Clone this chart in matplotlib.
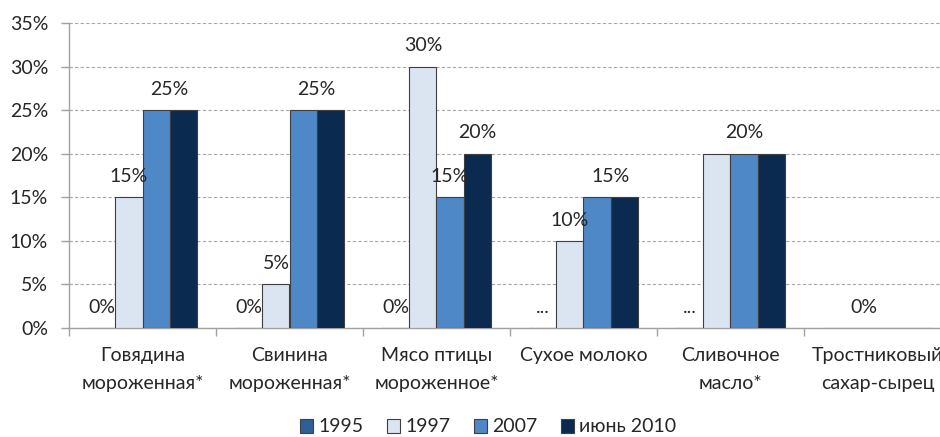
import numpy as np
import matplotlib
matplotlib.use('Agg')
import matplotlib.pyplot as plt
from matplotlib.ticker import FixedLocator, PercentFormatter

plt.rcParams['font.family'] = ['Lato', 'Open Sans', 'DejaVu Sans']

# Categories and series values (share, %); None = no data ("...")
categories = ['Говядина\nмороженная*', 'Свинина\nмороженная*', 'Мясо птицы\nмороженное*',
              'Сухое молоко', 'Сливочное\nмасло*', 'Тростниковый\nсахар-сырец']
series_names = ['1995', '1997', '2007', 'июнь 2010']
v1995 = [0, 0, 0, None, None, 0]
v1997 = [15, 5, 30, 10, 20, 0]
v2007 = [25, 25, 15, 15, 20, 0]
v2010 = [25, 25, 20, 15, 20, 0]
colors = ['#2E5F97', '#DBE5F1', '#4F88C6', '#0B2A4F']

# which bars share one value label (group index, series indices)
label_groups = [
    (0, [0]), (0, [1]), (0, [2, 3]),
    (1, [0]), (1, [1]), (1, [2, 3]),
    (2, [0]), (2, [1]), (2, [2]), (2, [3]),
    (3, [0]), (3, [1]), (3, [2, 3]),
    (4, [0]), (4, [1, 2, 3]),
    (5, [1]),
]

values = [v1995, v1997, v2007, v2010]
x = np.arange(len(categories))
w = 0.1837
fs = 14

fig = plt.figure(figsize=(9.4, 4.37), dpi=100)
ax = fig.add_axes([69 / 940, 1 - 328 / 437, (951 - 69) / 940, (328 - 23) / 437])

for i, (name, vals) in enumerate(zip(series_names, values)):
    h = [0 if v is None else v for v in vals]
    ax.bar(x + (i - 1.5) * w, h, w, color=colors[i], edgecolor='#3F3F3F',
           linewidth=0.8, label=name, zorder=3)

for g, idx in label_groups:
    xs = [x[g] + (i - 1.5) * w for i in idx]
    v = values[idx[0]][g]
    txt = '...' if v is None else f'{v}%'
    top = 0 if v is None else v
    ax.annotate(txt, (np.mean(xs), top), xytext=(0, 11), textcoords='offset points',
                ha='center', va='baseline', fontsize=fs, color='#262626', zorder=4)

ax.set_xlim(-0.5, 5.5)
ax.set_ylim(0, 35)
ax.yaxis.set_major_locator(FixedLocator(np.arange(0, 36, 5)))
ax.yaxis.set_major_formatter(PercentFormatter(decimals=0))
ax.grid(axis='y', color='#A6A6A6', linestyle=(0, (3, 2)), linewidth=0.8, zorder=0)

ax.set_xticks(x)
ax.set_xticklabels(categories, linespacing=1.75)
ax.xaxis.set_minor_locator(FixedLocator(np.arange(-0.5, 6, 1)))
ax.tick_params(axis='x', which='major', length=0, pad=14, labelsize=fs, colors='#262626')
ax.tick_params(axis='x', which='minor', length=6, color='#A0A0A0', width=1)
ax.tick_params(axis='y', length=6, color='#A0A0A0', width=1, pad=9, labelsize=fs,
               labelcolor='#262626')

for s in ['top', 'right']:
    ax.spines[s].set_visible(False)
for s in ['left', 'bottom']:
    ax.spines[s].set_color('#A0A0A0')
    ax.spines[s].set_linewidth(1)

fig.legend(loc='center', bbox_to_anchor=(488 / 940, 1 - 427 / 437), ncol=4, frameon=False,
           fontsize=fs, handlelength=0.7, handleheight=0.7, handletextpad=0.25,
           columnspacing=1.2, labelcolor='#262626')

fig.savefig('out.png', dpi=100)
